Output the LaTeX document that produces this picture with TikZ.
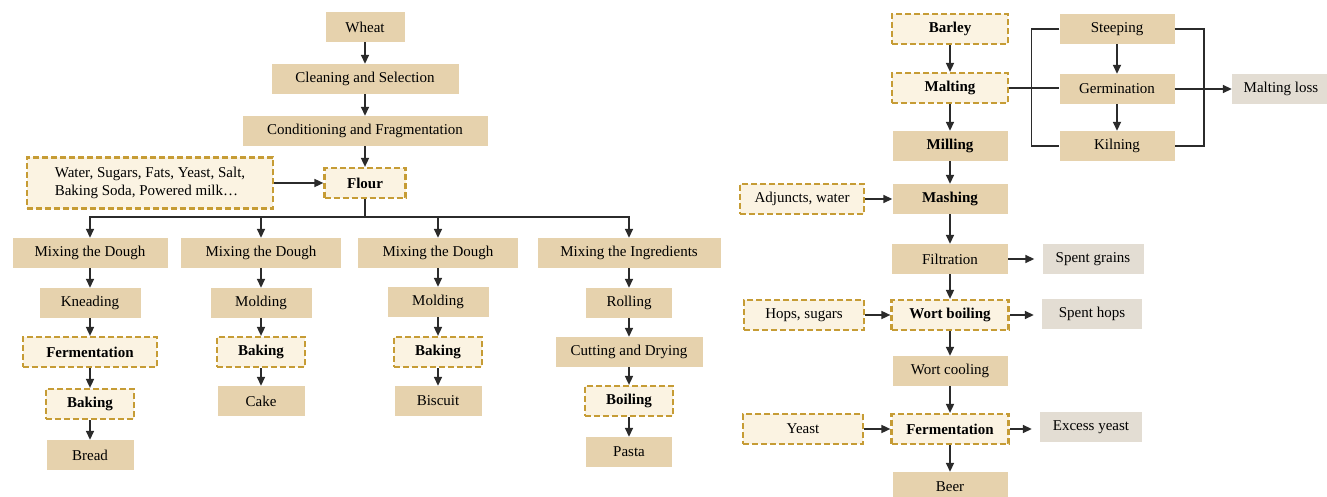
\documentclass[tikz,border=0pt]{standalone}
\usepackage{fontspec}
\setmainfont{Liberation Serif}
\usetikzlibrary{arrows.meta}
\definecolor{tanfill}{HTML}{E6D2AD}
\definecolor{creamfill}{HTML}{FBF3E2}
\definecolor{gold}{HTML}{C69C35}
\definecolor{greyfill}{HTML}{E3DDD3}
\definecolor{arrowc}{HTML}{2B2B2B}
\begin{document}
\begin{tikzpicture}[x=1pt,y=-1pt,
  base/.style={inner sep=0pt, minimum height=30pt, font=\fontsize{15}{18}\selectfont},
  sbox/.style={base, fill=tanfill},
  bsbox/.style={sbox, font=\fontsize{15}{18}\selectfont\bfseries},
  dbox/.style={base, fill=creamfill, draw=gold, line width=2.2pt, dash pattern=on 6pt off 3pt, font=\fontsize{15}{18}\selectfont\bfseries},
  ndbox/.style={dbox, font=\fontsize{15}{18}\selectfont},
  gbox/.style={base, fill=greyfill},
  arr/.style={-{Triangle[length=9pt,width=8pt]}, line width=1.6pt, draw=arrowc},
  ln/.style={line width=1.6pt, draw=arrowc}]
\useasboundingbox (0,0) rectangle (1327,497);
\fill[white] (0,0) rectangle (1327,497);
% ---------------- wheat part ----------------
\node[sbox, minimum width=79pt] (wheat) at (365,27) {Wheat};
\node[sbox, minimum width=187pt] (clean) at (365,79) {Cleaning and Selection};
\node[sbox, minimum width=245pt] (cond) at (365,131) {Conditioning and Fragmentation};
\node[dbox, minimum width=81pt] (flour) at (365,183) {Flour};
\node[ndbox, minimum width=246pt, minimum height=51pt, align=left] (water) at (150,183) {Water, Sugars, Fats, Yeast, Salt,\\Baking Soda, Powered milk\ldots};
\draw[arr] (wheat) -- (clean);
\draw[arr] (clean) -- (cond);
\draw[arr] (cond) -- (flour);
\draw[arr] (water) -- (flour);
% column 1
\node[sbox, minimum width=155pt] (m1) at (90,253) {Mixing the Dough};
\node[sbox, minimum width=101pt] (knead) at (90,303) {Kneading};
\node[dbox, minimum width=134pt] (ferm1) at (90,352) {Fermentation};
\node[dbox, minimum width=88pt] (bake1) at (90,404) {Baking};
\node[sbox, minimum width=87pt] (bread) at (90,455) {Bread};
% column 2
\node[sbox, minimum width=160pt] (m2) at (261,253) {Mixing the Dough};
\node[sbox, minimum width=101pt] (mold2) at (261,303) {Molding};
\node[dbox, minimum width=88pt] (bake2) at (261,352) {Baking};
\node[sbox, minimum width=87pt] (cake) at (261,401) {Cake};
% column 3
\node[sbox, minimum width=160pt] (m3) at (438,253) {Mixing the Dough};
\node[sbox, minimum width=101pt] (mold3) at (438,302) {Molding};
\node[dbox, minimum width=88pt] (bake3) at (438,352) {Baking};
\node[sbox, minimum width=87pt] (biscuit) at (438,401) {Biscuit};
% column 4
\node[sbox, minimum width=183pt] (m4) at (629,253) {Mixing the Ingredients};
\node[sbox, minimum width=86pt] (roll) at (629,303) {Rolling};
\node[sbox, minimum width=147pt] (cut) at (629,352) {Cutting and Drying};
\node[dbox, minimum width=88pt] (boil) at (629,401) {Boiling};
\node[sbox, minimum width=86pt] (pasta) at (629,452) {Pasta};
% bus
\draw[arr] (flour.south) -- ++(0,18) -| (m1.north);
\draw[arr] (flour.south) -- ++(0,18) -| (m2.north);
\draw[arr] (flour.south) -- ++(0,18) -| (m3.north);
\draw[arr] (flour.south) -- ++(0,18) -| (m4.north);
\draw[arr] (m1) -- (knead);
\draw[arr] (knead) -- (ferm1);
\draw[arr] (ferm1) -- (bake1);
\draw[arr] (bake1) -- (bread);
\draw[arr] (m2) -- (mold2);
\draw[arr] (mold2) -- (bake2);
\draw[arr] (bake2) -- (cake);
\draw[arr] (m3) -- (mold3);
\draw[arr] (mold3) -- (bake3);
\draw[arr] (bake3) -- (biscuit);
\draw[arr] (m4) -- (roll);
\draw[arr] (roll) -- (cut);
\draw[arr] (cut) -- (boil);
\draw[arr] (boil) -- (pasta);
% ---------------- barley part ----------------
\node[dbox, minimum width=116pt] (barley) at (950,29) {Barley};
\node[dbox, minimum width=116pt] (malting) at (950,88) {Malting};
\node[bsbox, minimum width=115pt] (milling) at (950,146) {Milling};
\node[bsbox, minimum width=115pt] (mashing) at (950,199) {Mashing};
\node[ndbox, minimum width=124pt] (adj) at (802,199) {Adjuncts, water};
\node[sbox, minimum width=115pt] (steep) at (1117,29) {Steeping};
\node[sbox, minimum width=115pt] (germ) at (1117,89) {Germination};
\node[sbox, minimum width=115pt] (kiln) at (1117,146) {Kilning};
\node[gbox, minimum width=98pt] (loss) at (1281,89) {Malting loss};
\draw[arr] (barley) -- (malting);
\draw[arr] (malting) -- (milling);
\draw[arr] (milling) -- (mashing);
\draw[arr] (adj) -- (mashing);
\draw[ln] (steep.west) -- ++(-28,0) |- (kiln.west);
\draw[ln] (malting.east) -- (malting.east -| germ.west);
\draw[ln] (steep.east) -- ++(29,0) |- (kiln.east);
\draw[arr] (steep) -- (germ);
\draw[arr] (germ) -- (kiln);
\draw[arr] (germ.east) -- (loss.west);
\node[sbox, minimum width=116pt] (filt) at (950,259) {Filtration};
\node[gbox, minimum width=101pt] (grains) at (1093,259) {Spent grains};
\node[dbox, minimum width=117pt] (wort) at (950,315) {Wort boiling};
\node[ndbox, minimum width=120pt] (hops) at (804,315) {Hops, sugars};
\node[gbox, minimum width=100pt] (shops) at (1092,314) {Spent hops};
\node[sbox, minimum width=115pt] (cool) at (950,371) {Wort cooling};
\node[dbox, minimum width=117pt] (ferm2) at (950,429) {Fermentation};
\node[ndbox, minimum width=120pt] (yeast) at (803,429) {Yeast};
\node[gbox, minimum width=102pt] (excess) at (1091,427) {Excess yeast};
\node[sbox, minimum width=115pt] (beer) at (950,487) {Beer};
\draw[arr] (mashing) -- (filt);
\draw[arr, shorten >=8pt] (filt.east) -- (grains.west);
\draw[arr] (filt) -- (wort);
\draw[arr] (hops) -- (wort);
\draw[arr, shorten >=8pt] (wort.east) -- (wort.east -| shops.west);
\draw[arr] (wort) -- (cool);
\draw[arr] (cool) -- (ferm2);
\draw[arr] (yeast) -- (ferm2);
\draw[arr, shorten >=8pt] (ferm2.east) -- (ferm2.east -| excess.west);
\draw[arr] (ferm2) -- (beer);
\end{tikzpicture}
\end{document}
